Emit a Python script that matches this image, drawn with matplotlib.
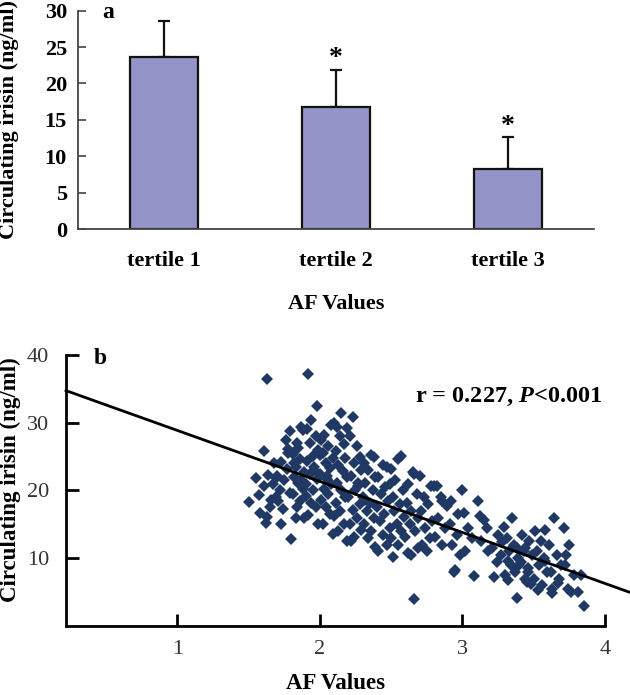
import numpy as np
import matplotlib
matplotlib.use("Agg")
import matplotlib.pyplot as plt

plt.rcParams['font.family'] = ['Liberation Serif', 'DejaVu Serif']
plt.rcParams['mathtext.fontset'] = 'custom'
plt.rcParams['mathtext.it'] = 'Liberation Serif:italic:bold'
plt.rcParams['mathtext.rm'] = 'Liberation Serif:bold'

# panel a: mean irisin by AF tertile
tertiles = ['tertile 1', 'tertile 2', 'tertile 3']
irisin_mean = [23.6, 16.7, 8.3]
irisin_sd = [5.0, 5.2, 4.3]
significant = [False, True, True]

# panel b: individual AF values vs irisin
af = [
    1.50, 1.61, 1.58, 1.55, 1.57, 1.63,
    1.63, 1.62, 1.64, 1.66, 1.68, 1.65, 1.67, 1.69, 1.61, 1.69,
    1.76, 1.73, 1.70, 1.73, 1.80, 1.72, 1.75, 1.77, 1.78, 1.71, 1.79, 1.74, 1.78, 1.79,
    1.87, 1.88, 1.84, 1.81, 1.86, 1.83, 1.89, 1.82, 1.85, 1.88, 1.81, 1.86, 1.84, 1.83, 1.89, 1.85, 1.82, 1.87,
    1.92, 1.98, 1.94, 1.91, 1.97, 1.93, 1.99, 1.95, 1.91, 1.96, 1.93, 1.98, 1.90, 1.95, 1.90, 1.94, 1.97, 1.92, 1.99, 1.96,
    2.08, 2.03, 2.01, 2.06, 2.02, 2.09, 2.04, 2.07, 2.00, 2.05, 2.08, 2.03, 2.06, 2.01, 2.04, 2.07, 2.02, 2.09, 2.05, 2.00,
    2.15, 2.10, 2.12, 2.19, 2.14, 2.17, 2.11, 2.18, 2.13, 2.16, 2.19, 2.12, 2.15, 2.18, 2.11, 2.14, 2.10, 2.17, 2.13, 2.19,
    2.23, 2.21, 2.26, 2.28, 2.24, 2.29, 2.22, 2.27, 2.25, 2.20, 2.28, 2.23, 2.26, 2.21, 2.29, 2.24, 2.22, 2.27,
    2.36, 2.38, 2.31, 2.34, 2.39, 2.32, 2.37, 2.30, 2.35, 2.33, 2.38, 2.31, 2.36, 2.34, 2.39, 2.32,
    2.44, 2.47, 2.41, 2.46, 2.43, 2.48, 2.40, 2.45, 2.42, 2.49, 2.44, 2.47, 2.41, 2.49,
    2.57, 2.55, 2.50, 2.53, 2.58, 2.51, 2.56, 2.52, 2.59, 2.54, 2.57, 2.50, 2.51, 2.55,
    2.65, 2.66, 2.62, 2.68, 2.61, 2.64, 2.69, 2.63, 2.67, 2.60, 2.69, 2.62, 2.64, 2.66,
    2.70, 2.78, 2.73, 2.76, 2.71, 2.79, 2.74, 2.77, 2.72, 2.75,
    2.82, 2.80, 2.85, 2.86, 2.89, 2.83, 2.88, 2.81, 2.86,
    2.92, 2.95, 2.94, 2.97, 2.91, 2.96, 2.93, 2.98,
    3.00, 3.01, 3.08, 3.04, 3.07, 3.02,
    3.11, 3.12, 3.15, 3.17, 3.13, 3.18,
    3.22, 3.25, 3.28, 3.21, 3.27, 3.24, 3.29,
    3.35, 3.32, 3.38, 3.31, 3.36, 3.33, 3.39, 3.34, 3.37, 3.30, 3.38, 3.32,
    3.42, 3.47, 3.44, 3.49, 3.41, 3.46, 3.46, 3.45, 3.48, 3.43, 3.40, 3.44,
    3.58, 3.51, 3.53, 3.55, 3.52, 3.57, 3.54, 3.59, 3.50, 3.56, 3.58,
    3.64, 3.63, 3.63, 3.67, 3.61, 3.66, 3.69, 3.62, 3.68,
    3.71, 3.73, 3.74, 3.76, 3.72, 3.78, 3.75,
    3.85, 3.81, 3.83,
]
irisin = [
    18.3, 20.7, 16.7, 21.8, 19.4, 36.4,
    16.1, 15.2, 22.3, 18.6, 24.0, 17.5, 20.9, 19.1, 25.8, 21.8,
    27.4, 24.2, 22.2, 15.0, 12.8, 20.1, 21.5, 23.1, 25.5, 18.5, 19.6, 17.2, 26.1, 28.8,
    29.4, 28.9, 27.0, 25.4, 24.6, 23.4, 22.8, 22.0, 21.1, 20.2, 19.5, 18.4, 17.6, 16.0, 15.9, 26.2, 24.0, 21.6,
    37.2, 32.4, 30.4, 29.1, 28.1, 27.0, 26.0, 25.1, 24.3, 23.4, 22.5, 21.7, 21.0, 20.1, 19.2, 18.2, 17.5, 16.4, 15.1, 23.0,
    29.7, 28.2, 27.4, 26.6, 25.5, 24.8, 24.0, 23.3, 22.5, 21.7, 21.0, 20.2, 19.5, 18.6, 17.5, 16.6, 15.0, 13.6, 22.2, 25.2,
    31.4, 29.9, 29.4, 29.2, 28.0, 26.8, 25.8, 24.8, 23.8, 22.9, 22.0, 21.1, 20.0, 19.0, 18.1, 17.0, 16.2, 15.0, 14.0, 12.6,
    30.8, 28.1, 26.5, 25.0, 24.1, 23.0, 22.1, 21.1, 20.0, 19.1, 18.0, 17.1, 16.0, 15.0, 14.1, 13.2, 12.5, 20.6,
    25.2, 25.0, 24.0, 23.0, 22.0, 21.1, 20.1, 19.0, 18.1, 17.0, 16.0, 15.1, 14.0, 13.0, 11.6, 18.6,
    23.7, 23.5, 22.0, 20.5, 19.5, 18.5, 17.6, 16.5, 15.5, 14.5, 13.4, 12.0, 11.1, 21.0,
    25.1, 24.6, 23.2, 21.5, 20.0, 19.1, 18.0, 17.0, 16.1, 15.0, 14.0, 13.0, 10.2, 12.0,
    22.7, 22.5, 21.0, 19.5, 18.1, 17.0, 16.0, 15.0, 14.0, 13.1, 11.5, 10.7, 10.5, 4.0,
    22.2, 20.7, 19.0, 18.0, 17.0, 15.5, 14.5, 13.0, 12.0, 11.0,
    20.7, 20.6, 19.0, 18.5, 17.7, 16.0, 14.5, 13.1, 12.0,
    18.5, 8.3, 8.0, 16.5, 15.0, 13.5, 12.0, 10.5,
    20.0, 16.7, 7.4, 14.5, 13.0, 11.0,
    18.5, 16.2, 15.7, 14.5, 12.5, 11.0,
    7.2, 13.5, 12.4, 11.5, 10.5, 9.5, 14.6,
    16.0, 6.8, 4.2, 13.0, 12.0, 11.0, 10.0, 9.0, 8.0, 7.6, 11.5, 9.6,
    13.5, 12.5, 11.5, 10.5, 9.5, 8.6, 8.0, 6.5, 6.2, 11.0, 9.0, 7.0,
    14.2, 14.0, 5.3, 12.5, 11.0, 10.0, 9.0, 8.0, 7.0, 6.0, 9.6,
    16.0, 5.5, 4.8, 6.3, 12.0, 10.5, 9.0, 8.0, 7.0,
    14.5, 10.5, 5.5, 5.0, 9.0, 7.5, 12.0,
    3.0, 5.0, 7.5,
]
fit_intercept = 36.4
fit_slope = -7.53
fit_range = [0.22, 4.19]

fig = plt.figure(figsize=(6.3, 6.95), dpi=100)

# ---------------- panel a ----------------
ax1 = fig.add_axes([0.1238, 0.6705, 0.8191, 0.3141])
pos = np.arange(len(tertiles))
ax1.bar(pos, irisin_mean, width=0.4, color='#9494c8', edgecolor='#111111', linewidth=1.6, zorder=2)
ax1.errorbar(pos, irisin_mean, yerr=[np.zeros(len(pos)), irisin_sd], fmt='none',
             ecolor='#111111', elinewidth=1.6, capsize=4, capthick=1.6, zorder=1)
for p, m, s, sig in zip(pos, irisin_mean, irisin_sd, significant):
    if sig:
        ax1.text(p, m + s - 0.2, '*', ha='center', va='bottom', fontsize=20, fontweight='bold')
ax1.set_xlim(-0.5, 2.5)
ax1.set_ylim(0, 30)
ax1.set_yticks([0, 5, 10, 15, 20, 25, 30])
ax1.set_xticks(pos)
ax1.set_xticklabels(tertiles)
for side in ['top', 'right']:
    ax1.spines[side].set_visible(False)
for side in ['left', 'bottom']:
    ax1.spines[side].set_color('#444444')
    ax1.spines[side].set_linewidth(1.3)
ax1.tick_params(axis='y', direction='in', length=6, width=1.2, color='#444444', pad=8, labelsize=16)
ax1.tick_params(axis='x', length=0, pad=16, labelsize=16)
for lab in ax1.get_xticklabels() + ax1.get_yticklabels():
    lab.set_fontweight('bold')
ax1.set_ylabel('Circulating irisin (ng/ml)', fontsize=16, fontweight='bold')
ax1.yaxis.set_label_coords(-0.114, 0.5)
ax1.set_xlabel('AF Values', fontsize=16, fontweight='bold')
ax1.xaxis.set_label_coords(0.5, -0.30)
fig.text(108 / 630, 1 - 12 / 695, 'a', fontsize=17, fontweight='bold', ha='center', va='center')

# ---------------- panel b ----------------
ax2 = fig.add_axes([0.1048, 0.0993, 0.8555, 0.3899])
ax2.plot(af, irisin, linestyle='none', marker='D', markersize=6.5,
         color='#1f3864', markeredgewidth=0, zorder=2)
fx = np.array(fit_range)
ax2.plot(fx, fit_intercept + fit_slope * fx, color='black', linewidth=2, clip_on=False, zorder=3)
ax2.set_xlim(0.22, 4.0)
ax2.set_ylim(0, 40)
ax2.set_xticks([1, 2, 3, 4])
ax2.set_yticks([10, 20, 30, 40])
for side in ['top', 'right']:
    ax2.spines[side].set_visible(False)
for side in ['left', 'bottom']:
    ax2.spines[side].set_linewidth(2)
ax2.tick_params(direction='in', length=9, width=2, labelsize=16, labelcolor='#333333')
ax2.tick_params(axis='y', pad=12)
ax2.tick_params(axis='x', pad=10)
ax2.set_ylabel('Circulating irisin (ng/ml)', fontsize=16.5, fontweight='bold')
ax2.yaxis.set_label_coords(-0.084, 0.54)
ax2.set_xlabel('AF Values', fontsize=16.5, fontweight='bold')
ax2.xaxis.set_label_coords(0.5, -0.175)
fig.text(100 / 630, 1 - 358 / 695, 'b', fontsize=17, fontweight='bold', ha='center', va='center')
fig.text(415 / 630, 1 - 397 / 695, r'r = 0.227, $\mathit{P}$<0.001', fontsize=17.5,
         fontweight='bold', ha='left', va='center')

fig.savefig('out.png', dpi=100)
